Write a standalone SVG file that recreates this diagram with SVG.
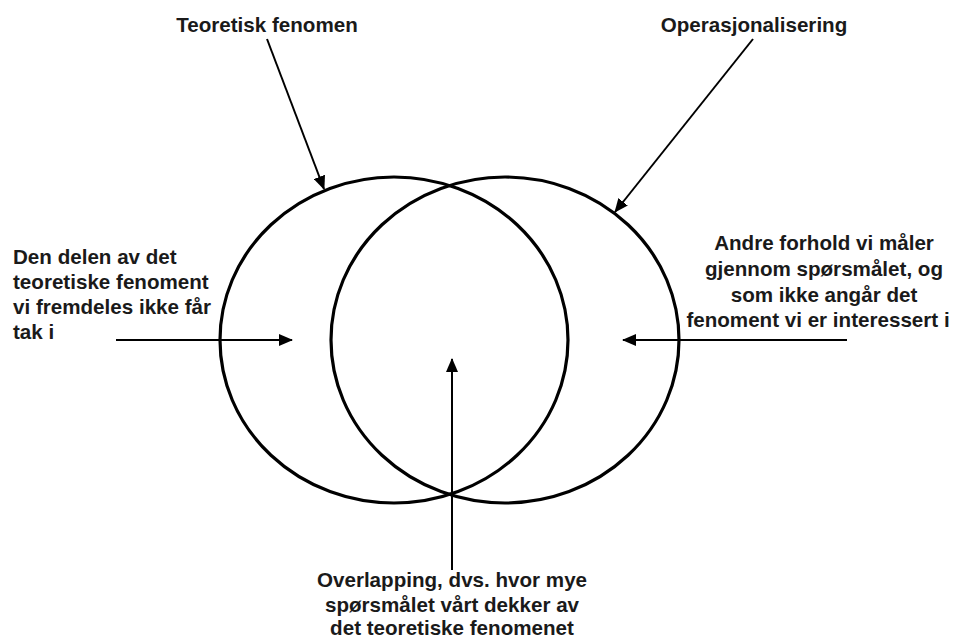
<svg xmlns="http://www.w3.org/2000/svg" width="955" height="639" viewBox="0 0 955 639">
  <style>
    .lbl { font-family: "Liberation Sans", Arial, sans-serif; font-weight: bold; font-size: 20.6px; fill: #1a1a1a; }
    .mid { text-anchor: middle; }
    .shape { fill: none; stroke: #000; stroke-width: 3.2; }
    .conn { fill: none; stroke: #000; stroke-width: 2; marker-end: url(#ah); }
  </style>
  <defs>
    <marker id="ah" markerWidth="14" markerHeight="12" refX="13" refY="6" orient="auto" markerUnits="userSpaceOnUse">
      <path d="M0,0 L14,6 L0,12 Z" fill="#000"/>
    </marker>
  </defs>
  <rect width="955" height="639" fill="#fff"/>
  <g id="teoretisk-fenomen">
    <ellipse class="shape" cx="394" cy="340" rx="174" ry="163"/>
  </g>
  <g id="operasjonalisering">
    <ellipse class="shape" cx="505" cy="340" rx="174" ry="163"/>
  </g>
  <g id="label-teoretisk">
    <text class="lbl mid" x="267" y="32">Teoretisk fenomen</text>
  </g>
  <g id="label-operasjonalisering">
    <text class="lbl mid" x="754" y="32">Operasjonalisering</text>
  </g>
  <g id="label-left">
    <text class="lbl" x="13" y="264">Den delen av det</text>
    <text class="lbl" x="13" y="289">teoretiske fenoment</text>
    <text class="lbl" x="13" y="314">vi fremdeles ikke får</text>
    <text class="lbl" x="13" y="339">tak i</text>
  </g>
  <g id="label-right">
    <text class="lbl mid" x="824" y="250">Andre forhold vi måler</text>
    <text class="lbl mid" x="824" y="276">gjennom spørsmålet, og</text>
    <text class="lbl mid" x="824" y="302">som ikke angår det</text>
    <text class="lbl mid" x="818" y="327">fenoment vi er interessert i</text>
  </g>
  <g id="label-bottom">
    <text class="lbl mid" x="452" y="587">Overlapping, dvs. hvor mye</text>
    <text class="lbl mid" x="452" y="612">spørsmålet vårt dekker av</text>
    <text class="lbl mid" x="452" y="635">det teoretiske fenomenet</text>
  </g>
  <g id="connectors">
    <line class="conn" x1="267" y1="39" x2="324" y2="189"/>
    <line class="conn" x1="753" y1="39" x2="615" y2="212"/>
    <line class="conn" x1="116" y1="340" x2="292" y2="340"/>
    <line class="conn" x1="847" y1="340" x2="623" y2="340"/>
    <line class="conn" x1="452" y1="570" x2="452" y2="359"/>
  </g>
</svg>
